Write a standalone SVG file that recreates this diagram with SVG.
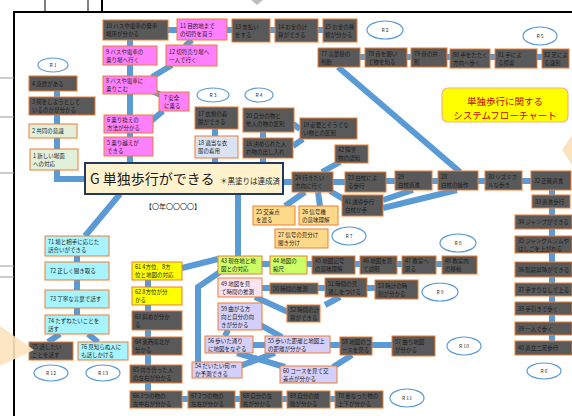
<svg xmlns="http://www.w3.org/2000/svg" width="572" height="416" viewBox="0 0 572 416">
<style>
.e{stroke:#5b9bd5;stroke-width:6;fill:none}
rect.n{stroke:#ed7d31;stroke-width:1}
.d{fill:#595959}.p{fill:#ff80ff}.c{fill:#a6f4ff}.y{fill:#ffff00}.g{fill:#ccff66}
.lp{fill:#fde4f2}.lv{fill:#d4d0fb}.lg{fill:#e2f0d9}.lb{fill:#dae3f3}.o{fill:#ffd98a}
text{font-family:"Noto Sans CJK JP","Noto Sans",sans-serif}
.t{font-size:5.5px;fill:#1a1a1a}
.r{fill:#fff;stroke:#5b9bd5;stroke-width:1.2}
.rt{font-size:5px;fill:#333;text-anchor:middle}
.fr{stroke:#000;fill:none}
</style>
<rect width="572" height="416" fill="#fff"/>
<g id="frame">
<line class="fr" x1="14" y1="12" x2="572" y2="12" stroke-width="2"/>
<line class="fr" x1="14" y1="11" x2="14" y2="416" stroke-width="2"/>
<line class="fr" x1="45" y1="0" x2="45" y2="11" stroke-width="1"/>
<line class="fr" x1="88" y1="0" x2="88" y2="11" stroke-width="1"/>
<line class="fr" x1="102" y1="0" x2="102" y2="11" stroke-width="2"/>
<line x1="0" y1="78" x2="14" y2="78" stroke="#999" stroke-width="1"/>
<line x1="0" y1="117" x2="14" y2="117" stroke="#999" stroke-width="1"/>
<line x1="0" y1="173" x2="14" y2="173" stroke="#999" stroke-width="1"/>
<line x1="0" y1="266" x2="14" y2="266" stroke="#999" stroke-width="1"/>
<line x1="0" y1="277" x2="14" y2="277" stroke="#999" stroke-width="1"/>
<polygon points="251,0 263,0 257,5" fill="#bfbfbf"/>
<polygon points="572,135 562,150 572,165" fill="#fde3bd"/>
</g>
<g id="connectors">
<path class="e" d="M168,30H177M227,30H232M270,30H275M318,30H323"/>
<path class="e" d="M130,40V163"/>
<path class="e" d="M192,40L185,46M152,77L172,65M150,90L165,97M163,111L150,122"/>
<path class="e" d="M57,91V149M57,170V179H85"/>
<path class="e" d="M215,129V163M263,132V163M293,124L300,129M293,146L303,139"/>
<path class="e" d="M283,182H292M322,172L340,162M333,182H345M386,181H395M432,181H438M478,181H485M522,181H531"/>
<path class="e" d="M338,67L460,172M360,57H542"/>
<path class="e" d="M330,191L345,200M383,200L413,190M383,208L457,190M305,192L285,206M318,192L320,206"/>
<path class="e" d="M238,194V257M120,194L85,236M77,256V315M60,334L48,342M88,334L98,342"/>
<path class="e" d="M182,268L218,259M148,280V391M258,264H442"/>
<path class="e" d="M220,272L198,287V362"/>
<path class="e" d="M262,288H375M340,297L325,305M255,297L288,312M255,322L282,337M228,330L225,336"/>
<path class="e" d="M253,345H392M237,353L285,367M275,353L240,366M333,367L352,355"/>
<path class="e" d="M182,399H335M552,190V341"/>
</g>
<g id="title">
<rect x="442" y="88" width="126" height="34" rx="6" fill="#ffff00" stroke="#f4b183" stroke-width="1.2"/>
<text x="505" y="104.5" font-size="9.5" fill="#c00000" text-anchor="middle">単独歩行に関する</text>
<text x="505" y="118.5" font-size="9.5" fill="#c00000" text-anchor="middle">システムフローチャート</text>
</g>
<g id="G">
<rect x="85" y="163" width="198" height="31" fill="#fff2cc" stroke="#1f3864" stroke-width="2"/>
<text x="90" y="184" font-size="14" fill="#1a1a1a">G  単独歩行ができる</text>
<text x="220" y="184" font-size="7.5" fill="#1a1a1a">＊黒塗りは達成済</text>
</g>
<g id="date"><text x="145" y="209" font-size="7" fill="#1a1a1a">【〇年〇〇〇〇】</text></g>
<g id="n10"><rect class="n d" x="103" y="20" width="65" height="20"/><text class="t"><tspan x="106" y="28">10 バスや電車の発車</tspan><tspan x="106" y="36">場所が分かる</tspan></text></g>
<g id="n11"><rect class="n p" x="177" y="19" width="50" height="21"/><text class="t"><tspan x="180" y="27.5">11 目的地まで</tspan><tspan x="180" y="35.5">の切符を買う</tspan></text></g>
<g id="n13"><rect class="n d" x="232" y="19" width="38" height="23"/><text class="t"><tspan x="235" y="28.5">13 支払い</tspan><tspan x="235" y="36.5">をする</tspan></text></g>
<g id="n14"><rect class="n d" x="275" y="19" width="43" height="23"/><text class="t"><tspan x="278" y="28.5">14 お金の計</tspan><tspan x="278" y="36.5">算ができる</tspan></text></g>
<g id="n15"><rect class="n d" x="323" y="19" width="34" height="23"/><text class="t"><tspan x="325" y="28.5">15 お金の種</tspan><tspan x="325" y="36.5">類が分かる</tspan></text></g>
<g id="n9"><rect class="n p" x="103" y="46" width="54" height="19"/><text class="t"><tspan x="106" y="53.5">9 バスや電車の</tspan><tspan x="106" y="61.5">乗り場へ行く</tspan></text></g>
<g id="n12"><rect class="n p" x="166" y="45" width="51" height="21"/><text class="t"><tspan x="169" y="53.5">12 切符売り場へ</tspan><tspan x="169" y="61.5">一人で行く</tspan></text></g>
<g id="n8"><rect class="n p" x="103" y="76" width="54" height="18"/><text class="t"><tspan x="106" y="83">8 バスや電車に</tspan><tspan x="106" y="91">乗りこむ</tspan></text></g>
<g id="n7"><rect class="n p" x="159" y="92" width="30" height="19"/><text class="t"><tspan x="164" y="99.5">7 安全</tspan><tspan x="164" y="107.5">に乗る</tspan></text></g>
<g id="n6"><rect class="n p" x="104" y="115" width="49" height="18"/><text class="t"><tspan x="107" y="122">6 乗り換えの</tspan><tspan x="107" y="130">方法が分かる</tspan></text></g>
<g id="n5"><rect class="n p" x="104" y="137" width="49" height="19"/><text class="t"><tspan x="107" y="144.5">5 乗り越えが</tspan><tspan x="107" y="152.5">できる</tspan></text></g>
<g id="n4"><rect class="n d" x="29" y="76" width="48" height="15"/><text class="t" x="32" y="85.5">4 意欲がある</text></g>
<g id="n3"><rect class="n d" x="29" y="97" width="66" height="18"/><text class="t"><tspan x="32" y="104">3 何をしようとして</tspan><tspan x="32" y="112">いるのかが分かる</tspan></text></g>
<g id="n2"><rect class="n lg" x="29" y="124" width="48" height="14"/><text class="t" x="32" y="133">2 共同の意識</text></g>
<g id="n1"><rect class="n lg" x="30" y="149" width="48" height="21"/><text class="t"><tspan x="33" y="157.5">1 新しい場面</tspan><tspan x="33" y="165.5">への対応</tspan></text></g>
<g id="n17"><rect class="n d" x="195" y="107" width="43" height="22"/><text class="t"><tspan x="198" y="116">17 衣類の着</tspan><tspan x="198" y="124">脱ができる</tspan></text></g>
<g id="n18"><rect class="n lb" x="195" y="136" width="43" height="22"/><text class="t"><tspan x="198" y="145">18 適当な衣</tspan><tspan x="198" y="153">服の着用</tspan></text></g>
<g id="n20"><rect class="n d" x="243" y="108" width="51" height="24"/><text class="t"><tspan x="246" y="118">20 自分の物と</tspan><tspan x="246" y="126">他人の物の区別</tspan></text></g>
<g id="n19"><rect class="n d" x="300" y="118" width="57" height="21"/><text class="t"><tspan x="303" y="126.5">19 必要とそうでな</tspan><tspan x="303" y="134.5">い物との区別</tspan></text></g>
<g id="n16"><rect class="n d" x="243" y="138" width="50" height="20"/><text class="t"><tspan x="246" y="146">16 決められた人</tspan><tspan x="246" y="154">れ物の出し入れ</tspan></text></g>
<g id="n77"><rect class="n d" x="318" y="48" width="42" height="19"/><text class="t"><tspan x="321" y="55.5">77 言葉掛の</tspan><tspan x="321" y="63.5">判断</tspan></text></g>
<g id="n78"><rect class="n d" x="365" y="48" width="42" height="19"/><text class="t"><tspan x="368" y="55.5">78 音を聞い</tspan><tspan x="368" y="63.5">て物を知る</tspan></text></g>
<g id="n79"><rect class="n d" x="411" y="48" width="36" height="19"/><text class="t"><tspan x="414" y="55.5">79 音の弁</tspan><tspan x="414" y="63.5">別</tspan></text></g>
<g id="n80"><rect class="n d" x="450" y="49" width="40" height="19"/><text class="t"><tspan x="453" y="56.5">80 手をたたく</tspan><tspan x="453" y="64.5">方向へ歩く</tspan></text></g>
<g id="n81"><rect class="n d" x="495" y="49" width="42" height="19"/><text class="t"><tspan x="498" y="56.5">81 手によ</tspan><tspan x="498" y="64.5">る探索</tspan></text></g>
<g id="n82"><rect class="n d" x="542" y="49" width="27" height="19"/><text class="t"><tspan x="544" y="56.5">82 足によ</tspan><tspan x="544" y="64.5">る識別</tspan></text></g>
<g id="n42"><rect class="n d" x="335" y="145" width="33" height="18"/><text class="t"><tspan x="338" y="152">42 障害</tspan><tspan x="338" y="160">物の認知</tspan></text></g>
<g id="n24"><rect class="n d" x="292" y="172" width="41" height="20"/><text class="t"><tspan x="295" y="180">24 行きたい</tspan><tspan x="295" y="188">方向に行く</tspan></text></g>
<g id="n23"><rect class="n d" x="345" y="172" width="41" height="20"/><text class="t"><tspan x="348" y="180">23 白杖によ</tspan><tspan x="348" y="188">る歩行</tspan></text></g>
<g id="n41"><rect class="n d" x="342" y="195" width="41" height="21"/><text class="t"><tspan x="345" y="203.5">41 誘導歩行</tspan><tspan x="345" y="211.5">白杖か手</tspan></text></g>
<g id="n29"><rect class="n d" x="395" y="171" width="37" height="19"/><text class="t"><tspan x="398" y="178.5">29</tspan><tspan x="398" y="186.5">白杖直進</tspan></text></g>
<g id="n28"><rect class="n d" x="438" y="171" width="40" height="19"/><text class="t"><tspan x="441" y="178.5">28</tspan><tspan x="441" y="186.5">白杖の操作</tspan></text></g>
<g id="n30"><rect class="n d" x="485" y="171" width="37" height="19"/><text class="t"><tspan x="488" y="178.5">30 リズミカ</tspan><tspan x="488" y="186.5">ルな歩き</tspan></text></g>
<g id="n32"><rect class="n d" x="531" y="171" width="40" height="19"/><text class="t" x="534" y="182.5">32 正確直進</text></g>
<g id="n33"><rect class="n d" x="532" y="195" width="38" height="13"/><text class="t" x="535" y="203.5">33 直進歩行</text></g>
<g id="n34"><rect class="n d" x="515" y="215" width="57" height="14"/><text class="t" x="518" y="224">34 ジャンプができる</text></g>
<g id="n35"><rect class="n d" x="515" y="236" width="57" height="17"/><text class="t"><tspan x="518" y="242.5">35 ジャングルジムや</tspan><tspan x="518" y="250.5">はしごを上がれる</tspan></text></g>
<g id="n36"><rect class="n d" x="515" y="262" width="57" height="15"/><text class="t" x="518" y="271.5">36 階段昇降ができる</text></g>
<g id="n37"><rect class="n d" x="515" y="283" width="57" height="13"/><text class="t" x="518" y="291.5">37 手すりなしで上る</text></g>
<g id="n38"><rect class="n d" x="515" y="302" width="57" height="13"/><text class="t" x="518" y="310.5">38 手引きで歩く</text></g>
<g id="n39"><rect class="n d" x="515" y="322" width="57" height="13"/><text class="t" x="518" y="330.5">39 一人で歩く</text></g>
<g id="n40"><rect class="n d" x="515" y="341" width="57" height="14"/><text class="t" x="518" y="350">40 直立二足歩行</text></g>
<g id="n25"><rect class="n o" x="253" y="206" width="42" height="19"/><text class="t"><tspan x="256" y="213.5">25 交差点</tspan><tspan x="256" y="221.5">を渡る</tspan></text></g>
<g id="n26"><rect class="n o" x="299" y="206" width="39" height="19"/><text class="t"><tspan x="302" y="213.5">26 信号機</tspan><tspan x="302" y="221.5">の意味理解</tspan></text></g>
<g id="n27"><rect class="n o" x="275" y="229" width="53" height="19"/><text class="t"><tspan x="278" y="236.5">27 信号の見分け</tspan><tspan x="278" y="244.5">聞き分け</tspan></text></g>
<g id="n71"><rect class="n c" x="45" y="236" width="64" height="20"/><text class="t"><tspan x="48" y="244">71 場と相手に応じた</tspan><tspan x="48" y="252">話合いができる</tspan></text></g>
<g id="n72"><rect class="n c" x="45" y="262" width="64" height="18"/><text class="t" x="50" y="273">72 正しく聞き取る</text></g>
<g id="n73"><rect class="n c" x="45" y="290" width="64" height="18"/><text class="t" x="50" y="301">73 丁寧な言葉で話す</text></g>
<g id="n74"><rect class="n c" x="45" y="315" width="64" height="19"/><text class="t"><tspan x="48" y="322.5">74 たずねたいことを</tspan><tspan x="48" y="330.5">話す</tspan></text></g>
<g id="n75"><rect class="n d" x="29" y="342" width="44" height="18"/><text class="t"><tspan x="32" y="349">75 話したい</tspan><tspan x="32" y="357">ことを話す</tspan></text></g>
<g id="n76"><rect class="n c" x="78" y="342" width="50" height="18"/><text class="t"><tspan x="81" y="349">76 見知らぬ人に</tspan><tspan x="81" y="357">も話しかける</tspan></text></g>
<g id="n61"><rect class="n y" x="132" y="262" width="50" height="18"/><text class="t"><tspan x="135" y="269">61 4方位、8方</tspan><tspan x="135" y="277">位と地図の対応</tspan></text></g>
<g id="n62"><rect class="n y" x="132" y="287" width="50" height="18"/><text class="t"><tspan x="135" y="294">62 8方位が分</tspan><tspan x="135" y="302">かる</tspan></text></g>
<g id="n63"><rect class="n d" x="132" y="311" width="50" height="19"/><text class="t"><tspan x="135" y="318.5">63 斜めが分か</tspan><tspan x="135" y="326.5">る</tspan></text></g>
<g id="n64"><rect class="n d" x="132" y="337" width="50" height="18"/><text class="t"><tspan x="135" y="344">64 東西南北が</tspan><tspan x="135" y="352">分かる</tspan></text></g>
<g id="n65"><rect class="n d" x="130" y="365" width="52" height="18"/><text class="t"><tspan x="133" y="372">65 向き合った人</tspan><tspan x="133" y="380">の左右が分かる</tspan></text></g>
<g id="n66"><rect class="n d" x="130" y="391" width="52" height="17"/><text class="t"><tspan x="133" y="397.5">66 3つの物の</tspan><tspan x="133" y="405.5">左中右が分かる</tspan></text></g>
<g id="n67"><rect class="n d" x="188" y="391" width="47" height="17"/><text class="t"><tspan x="191" y="397.5">67 2つの物の</tspan><tspan x="191" y="405.5">左右が分かる</tspan></text></g>
<g id="n68"><rect class="n d" x="240" y="391" width="42" height="17"/><text class="t"><tspan x="243" y="397.5">68 自分の左</tspan><tspan x="243" y="405.5">右が分かる</tspan></text></g>
<g id="n69"><rect class="n d" x="287" y="391" width="43" height="17"/><text class="t"><tspan x="290" y="397.5">69 自分の前</tspan><tspan x="290" y="405.5">後が分かる</tspan></text></g>
<g id="n70"><rect class="n d" x="335" y="391" width="48" height="17"/><text class="t"><tspan x="338" y="397.5">70 重なった物の</tspan><tspan x="338" y="405.5">上下が分かる</tspan></text></g>
<g id="n43"><rect class="n g" x="218" y="256" width="44" height="18"/><text class="t"><tspan x="221" y="263">43 現在地と地</tspan><tspan x="221" y="271">図との対応</tspan></text></g>
<g id="n44"><rect class="n g" x="270" y="256" width="37" height="18"/><text class="t"><tspan x="273" y="263">44 地図の</tspan><tspan x="273" y="271">縮尺</tspan></text></g>
<g id="n45"><rect class="n d" x="312" y="256" width="43" height="18"/><text class="t"><tspan x="315" y="263">45 地図記号</tspan><tspan x="315" y="271">の意味理解</tspan></text></g>
<g id="n46"><rect class="n d" x="360" y="256" width="37" height="18"/><text class="t"><tspan x="363" y="263">46 地図を見</tspan><tspan x="363" y="271">て説明</tspan></text></g>
<g id="n47"><rect class="n d" x="402" y="256" width="34" height="18"/><text class="t"><tspan x="405" y="263">47 教室へ</tspan><tspan x="405" y="271">戻る</tspan></text></g>
<g id="n48"><rect class="n d" x="442" y="256" width="35" height="18"/><text class="t"><tspan x="445" y="263">48 教室内</tspan><tspan x="445" y="271">の移動</tspan></text></g>
<g id="n49"><rect class="n lp" x="218" y="278" width="44" height="19"/><text class="t"><tspan x="221" y="285.5">49 地図を見</tspan><tspan x="221" y="293.5">て時間の推測</tspan></text></g>
<g id="n50"><rect class="n d" x="270" y="283" width="48" height="11"/><text class="t" x="273" y="290.5">50 時間の推測</text></g>
<g id="n51"><rect class="n d" x="325" y="278" width="42" height="19"/><text class="t"><tspan x="328" y="285.5">51 時間の見</tspan><tspan x="328" y="293.5">通しをつける</tspan></text></g>
<g id="n53"><rect class="n d" x="375" y="280" width="43" height="19"/><text class="t"><tspan x="378" y="287.5">53 時計の時</tspan><tspan x="378" y="295.5">刻が分かる</tspan></text></g>
<g id="n52"><rect class="n d" x="287" y="305" width="33" height="17"/><text class="t"><tspan x="290" y="311.5">52 時間の計</tspan><tspan x="290" y="319.5">算ができる</tspan></text></g>
<g id="n59"><rect class="n lv" x="218" y="303" width="44" height="27"/><text class="t"><tspan x="221" y="311">59 曲がる方</tspan><tspan x="221" y="319">向と自分の向</tspan><tspan x="221" y="327">きが分かる</tspan></text></g>
<g id="n56"><rect class="n lv" x="205" y="336" width="48" height="17"/><text class="t"><tspan x="208" y="342.5">56 歩いた通り</tspan><tspan x="208" y="350.5">に地図をなぞる</tspan></text></g>
<g id="n55"><rect class="n lv" x="265" y="336" width="65" height="17"/><text class="t"><tspan x="268" y="342.5">55 歩いた距離と地図上</tspan><tspan x="268" y="350.5">の距離が分かる</tspan></text></g>
<g id="n58"><rect class="n d" x="340" y="337" width="32" height="18"/><text class="t"><tspan x="342" y="344">58 地図のコ</tspan><tspan x="342" y="352">ースを見る</tspan></text></g>
<g id="n57"><rect class="n d" x="392" y="336" width="43" height="20"/><text class="t"><tspan x="395" y="344">57 曲り地図</tspan><tspan x="395" y="352">が分かる</tspan></text></g>
<g id="n54"><rect class="n lv" x="192" y="362" width="50" height="16"/><text class="t"><tspan x="195" y="368">54 だいたい何 m</tspan><tspan x="195" y="376">か予測できる</tspan></text></g>
<g id="n60"><rect class="n lv" x="280" y="366" width="57" height="17"/><text class="t"><tspan x="283" y="372.5">60 コースを見て交</tspan><tspan x="283" y="380.5">差点が分かる</tspan></text></g>
<g id="R1"><ellipse class="r" cx="53" cy="65" rx="15" ry="7"/><text class="rt" x="53" y="67">R 1</text></g>
<g id="R2"><ellipse class="r" cx="385" cy="30" rx="18" ry="9"/><text class="rt" x="385" y="32">R 2</text></g>
<g id="R3"><ellipse class="r" cx="213" cy="95" rx="16" ry="7"/><text class="rt" x="213" y="97">R 3</text></g>
<g id="R4"><ellipse class="r" cx="259" cy="95" rx="14" ry="7"/><text class="rt" x="259" y="97">R 4</text></g>
<g id="R5"><ellipse class="r" cx="540" cy="36" rx="17" ry="9"/><text class="rt" x="540" y="38">R 5</text></g>
<g id="R6"><ellipse class="r" cx="544" cy="371" rx="17" ry="8"/><text class="rt" x="544" y="373">R 6</text></g>
<g id="R7"><ellipse class="r" cx="349" cy="236" rx="17" ry="9"/><text class="rt" x="349" y="238">R 7</text></g>
<g id="R8"><ellipse class="r" cx="458" cy="243" rx="18" ry="9"/><text class="rt" x="458" y="245">R 8</text></g>
<g id="R9"><ellipse class="r" cx="440" cy="292" rx="18" ry="9"/><text class="rt" x="440" y="294">R 9</text></g>
<g id="R10"><ellipse class="r" cx="464" cy="346" rx="17" ry="9"/><text class="rt" x="464" y="348">R 10</text></g>
<g id="R11"><ellipse class="r" cx="407" cy="398" rx="17" ry="9"/><text class="rt" x="407" y="400">R 11</text></g>
<g id="R12"><ellipse class="r" cx="51" cy="373" rx="17" ry="8"/><text class="rt" x="51" y="375">R 12</text></g>
<g id="R13"><ellipse class="r" cx="103" cy="373" rx="17" ry="8"/><text class="rt" x="103" y="375">R 13</text></g>
<g id="arrow-left"><polygon points="0,326 34,350 0,366" fill="#fde3bd" opacity="0.9"/></g>
</svg>
